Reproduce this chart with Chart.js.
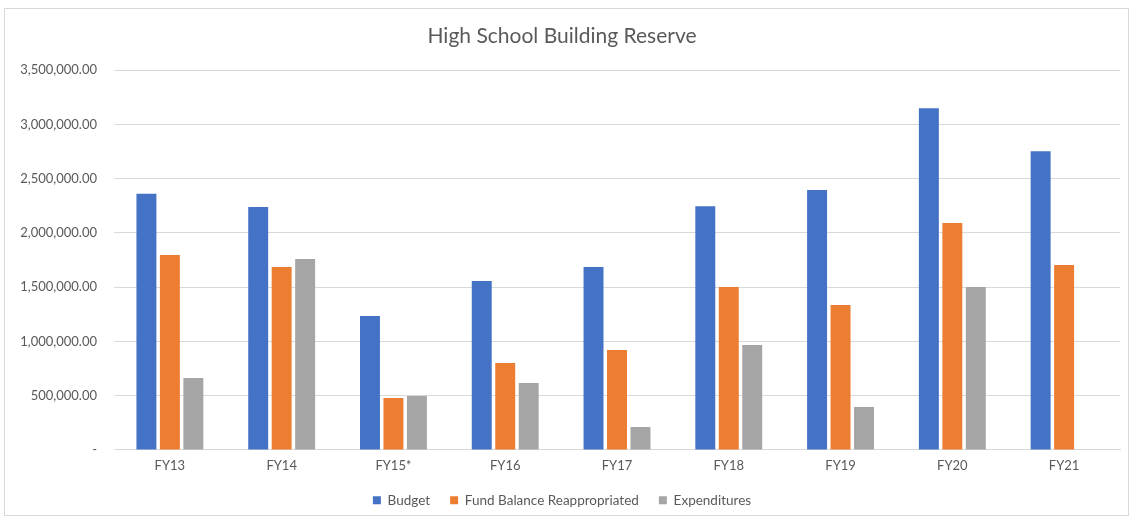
<!DOCTYPE html>
<html>
<head>
<meta charset="utf-8">
<script src="https://cdn.jsdelivr.net/npm/chart.js@4"></script>
<style>
    body { margin: 0; background: #fff; }
    .chart_box { position: absolute; left: 4px; top: 8px; width: 1123px; height: 506px; border: 1px solid #d9d9d9; }
    #myChart { position: absolute; left: 0; top: 0; }
</style>
</head>
<body>
<div class="chart_box"></div>
<canvas id="myChart" width="1133" height="519"></canvas>
<script>
var categories = ["FY13", "FY14", "FY15*", "FY16", "FY17", "FY18", "FY19", "FY20", "FY21"];
var budget = [2360000, 2238000, 1234000, 1557000, 1686000, 2247000, 2395000, 3150000, 2754000];
var fundBalance = [1796000, 1686000, 479000, 801000, 921000, 1501000, 1336000, 2091000, 1704000];
var expenditures = [663000, 1759000, 497000, 617000, 212000, 967000, 396000, 1501000, null];

var textColor = "#595959";
Chart.defaults.font.family = "Lato, 'Open Sans', sans-serif";
Chart.defaults.color = textColor;

new Chart("myChart", {
    type: "bar",
    data: {
        labels: categories,
        datasets: [
            { label: "Budget", data: budget, backgroundColor: "#4472C4" },
            { label: "Fund Balance Reappropriated", data: fundBalance, backgroundColor: "#ED7D31" },
            { label: "Expenditures", data: expenditures, backgroundColor: "#A5A5A5" }
        ]
    },
    options: {
        responsive: false,
        animation: false,
        layout: { padding: { left: 4, right: 13, top: 0, bottom: 2 } },
        datasets: { bar: { barPercentage: 0.85, categoryPercentage: 0.63 } },
        plugins: {
            title: {
                display: true,
                text: "High School Building Reserve",
                font: { size: 21, weight: "normal" },
                padding: { top: 24, bottom: 21 }
            },
            legend: {
                position: "bottom",
                labels: { boxWidth: 8, boxHeight: 8, font: { size: 13.5 }, padding: 20 }
            },
            tooltip: { enabled: false }
        },
        scales: {
            x: {
                grid: { display: false },
                border: { color: "#d9d9d9" },
                ticks: { font: { size: 13 }, padding: 0 }
            },
            y: {
                min: 0,
                max: 3500000,
                afterFit: function (s) { s.width = 110; },
                grid: { color: "#d9d9d9", drawTicks: false },
                border: { display: false },
                ticks: {
                    stepSize: 500000,
                    padding: 17,
                    font: { size: 13 },
                    callback: function (v) {
                        if (v === 0) return "-";
                        return v.toLocaleString("en-US", { minimumFractionDigits: 2, maximumFractionDigits: 2 });
                    }
                }
            }
        }
    }
});
</script>
</body>
</html>
